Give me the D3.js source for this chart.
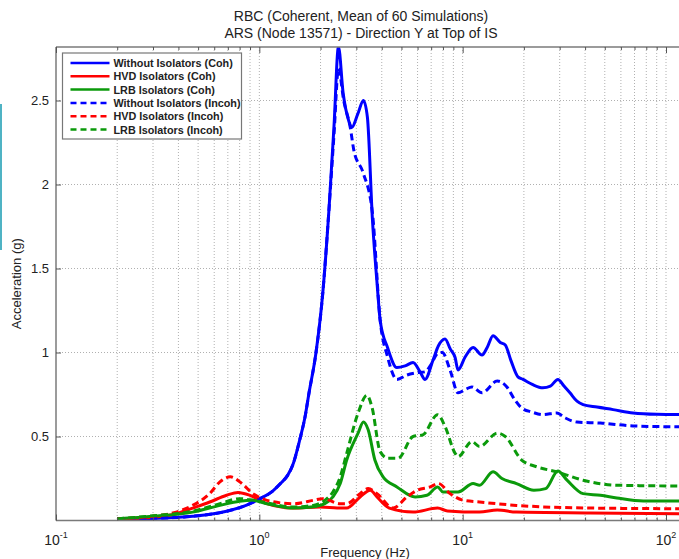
<!DOCTYPE html>
<html>
<head>
<meta charset="utf-8">
<script src="https://cdn.jsdelivr.net/npm/d3@7"></script>
<style>
html,body{margin:0;padding:0;background:#fff;}
svg{display:block;font-family:"Liberation Sans",Arial,sans-serif;}
</style>
</head>
<body>
<svg id="chart" width="679" height="559"></svg>
<script>
// ---------- data ----------
const titleLines = ["RBC (Coherent, Mean of 60 Simulations)", "ARS (Node 13571) - Direction Y at Top of IS"];
const xLabel = "Frequency (Hz)";
const yLabel = "Acceleration (g)";
const yTicks = [0.5, 1, 1.5, 2, 2.5];
const xDecades = [0.1, 1, 10, 100];
const xDecadeExp = ["-1", "0", "1", "2"];
const seriesNames = ["Without Isolators (Coh)", "HVD Isolators (Coh)", "LRB Isolators (Coh)",
                     "Without Isolators (Incoh)", "HVD Isolators (Incoh)", "LRB Isolators (Incoh)"];

const freqWithoutCoh = [0.2,0.3,0.47,0.69,0.86,1.0,1.15,1.27,1.38,1.46,1.58,1.68,1.75,1.9,2.05,2.2,2.33,2.45,2.58,2.75,2.85,3.05,3.25,3.4,3.6,3.8,3.93,4.27,4.75,5.21,5.7,6.17,6.53,7.15,7.6,8.19,8.7,9.18,9.49,10.3,11.25,12.45,13.2,14.1,15.3,16.2,17.3,18.7,19.8,22.0,24.8,27.0,29.4,31.5,33.7,36.5,39.1,45.8,54.9,68.9,90,125];
const accWithoutCoh  = [0.008,0.012,0.025,0.055,0.09,0.128,0.17,0.22,0.27,0.33,0.48,0.62,0.75,1.0,1.35,1.85,2.35,2.82,2.55,2.38,2.34,2.42,2.50,2.4,1.79,1.4,1.19,1.03,0.91,0.92,0.94,0.885,0.84,0.955,1.04,1.08,1.02,0.97,0.896,0.975,1.03,0.985,1.03,1.10,1.06,1.045,0.95,0.855,0.84,0.81,0.79,0.8,0.84,0.8,0.76,0.71,0.69,0.675,0.66,0.64,0.632,0.63];

const freqHvdCoh = [0.2,0.3,0.39,0.47,0.57,0.69,0.785,0.9,1.09,1.47,1.99,2.41,2.69,3.13,3.51,3.79,4.36,5.7,7.53,8.42,12.1,14.8,18.4,42.4,125];
const accHvdCoh  = [0.01,0.02,0.04,0.074,0.11,0.15,0.167,0.15,0.10,0.074,0.08,0.075,0.074,0.14,0.18,0.14,0.074,0.05,0.074,0.057,0.05,0.062,0.05,0.045,0.04];

const freqLrbCoh = [0.2,0.3,0.47,0.64,0.8,0.93,1.09,1.47,1.8,2.1,2.3,2.5,2.69,3.06,3.25,3.43,3.7,4.06,4.75,5.84,6.67,7.53,8.0,9.49,11.25,12.1,14.1,15.6,18.4,22.4,25.6,29.4,32.6,39.1,47.6,57.3,77.4,125];
const accLrbCoh  = [0.01,0.025,0.05,0.09,0.115,0.12,0.10,0.074,0.08,0.1,0.14,0.22,0.36,0.52,0.586,0.54,0.36,0.26,0.2,0.14,0.15,0.2,0.17,0.17,0.22,0.21,0.29,0.25,0.22,0.18,0.19,0.295,0.24,0.16,0.15,0.134,0.116,0.116];

const freqWithoutIncoh = [0.2,0.3,0.47,0.69,0.86,1.0,1.15,1.27,1.38,1.46,1.58,1.68,1.75,1.9,2.05,2.2,2.33,2.45,2.6,2.8,2.92,3.24,3.6,3.93,4.27,4.75,5.32,6.0,6.53,7.0,7.53,7.94,8.67,9.49,10.3,11.1,12.45,14.8,16.5,18.0,19.5,22.0,24.8,29.0,32,36.5,47.6,68.9,125];
const accWithoutIncoh  = [0.008,0.012,0.025,0.055,0.09,0.128,0.17,0.22,0.27,0.33,0.48,0.62,0.75,1.0,1.35,1.85,2.3,2.69,2.5,2.34,2.2,2.07,1.83,1.19,0.975,0.84,0.866,0.88,0.885,0.93,0.995,1.0,0.896,0.76,0.78,0.795,0.76,0.83,0.795,0.72,0.67,0.645,0.63,0.64,0.61,0.586,0.58,0.563,0.557];

const freqHvdIncoh = [0.2,0.3,0.39,0.47,0.57,0.64,0.72,0.82,0.93,1.09,1.47,1.84,2.05,2.5,2.69,3.13,3.43,3.79,4.55,5.32,5.97,6.92,7.6,8.67,10.1,12.1,18.4,42.4,125];
const accHvdIncoh  = [0.01,0.025,0.05,0.09,0.16,0.23,0.26,0.22,0.16,0.12,0.10,0.12,0.13,0.10,0.10,0.16,0.19,0.16,0.074,0.14,0.18,0.2,0.22,0.16,0.12,0.11,0.09,0.074,0.07];

const freqLrbIncoh = [0.2,0.3,0.47,0.64,0.8,0.93,1.09,1.47,1.84,2.1,2.3,2.5,2.69,3.06,3.38,3.58,3.93,4.3,4.81,5.7,6.37,7.53,8.19,9.18,9.49,11.1,12.1,14.8,16.2,19.5,23.1,29.0,39.1,57.3,125];
const accLrbIncoh  = [0.01,0.028,0.055,0.1,0.13,0.12,0.105,0.08,0.09,0.12,0.17,0.26,0.4,0.64,0.745,0.675,0.41,0.37,0.37,0.5,0.51,0.63,0.56,0.40,0.38,0.47,0.44,0.52,0.5,0.36,0.32,0.29,0.24,0.21,0.205];

const seriesColors = ["#0000ff", "#ff0000", "#0b9a0b", "#0000ff", "#ff0000", "#0b9a0b"];
const seriesDashed = [false, false, false, true, true, true];
const seriesFreqs = [freqWithoutCoh, freqHvdCoh, freqLrbCoh, freqWithoutIncoh, freqHvdIncoh, freqLrbIncoh];
const seriesAccs  = [accWithoutCoh, accHvdCoh, accLrbCoh, accWithoutIncoh, accHvdIncoh, accLrbIncoh];

// ---------- layout ----------
const svg = d3.select("#chart");
const plotLeft = 56, plotBottom = 520.5, plotTop = 47;
const xMaxDomain = 125;

const x = d3.scaleLog().domain([0.1, 100]).range([plotLeft, 666]);
const y = d3.scaleLinear().domain([0, 2.5]).range([plotBottom, 100.5]);
const plotRight = x(xMaxDomain);

// artifact strip at left edge
svg.append("rect").attr("x", 0).attr("y", 104).attr("width", 2).attr("height", 146).attr("fill", "#4fb3c4");

// clip
svg.append("defs").append("clipPath").attr("id", "plotclip")
  .append("rect").attr("x", plotLeft).attr("y", plotTop).attr("width", plotRight - plotLeft).attr("height", plotBottom - plotTop);

// grid
const minorVals = [];
[0.1, 1, 10, 100].forEach(d => { for (let k = 1; k <= 9; k++) { const v = d * k; if (v <= xMaxDomain && v > 0.1) minorVals.push(v); } });
const grid = svg.append("g");
grid.selectAll("line.vx").data(minorVals).join("line")
  .attr("x1", d => x(d)).attr("x2", d => x(d)).attr("y1", plotTop).attr("y2", plotBottom)
  .attr("stroke", "#b0b0b0").attr("stroke-width", 1).attr("stroke-dasharray", "1,2");
grid.selectAll("line.hy").data(yTicks).join("line")
  .attr("x1", plotLeft).attr("x2", plotRight).attr("y1", d => y(d)).attr("y2", d => y(d))
  .attr("stroke", "#b0b0b0").attr("stroke-width", 1).attr("stroke-dasharray", "1,2");

// lines
const line = d3.line().x(d => x(d[0])).y(d => y(d[1])).curve(d3.curveMonotoneX);
const lg = svg.append("g").attr("clip-path", "url(#plotclip)");
seriesNames.forEach((name, i) => {
  const pts = seriesFreqs[i].map((f, j) => [f, seriesAccs[i][j]]);
  lg.append("path").datum(pts).attr("d", line)
    .attr("fill", "none").attr("stroke", seriesColors[i]).attr("stroke-width", 3)
    .attr("stroke-linejoin", "round")
    .attr("stroke-dasharray", seriesDashed[i] ? "7,4" : null);
});

// axes box
const axisColor = "#7a7a7a";
svg.append("line").attr("x1", plotLeft).attr("x2", plotRight).attr("y1", plotBottom).attr("y2", plotBottom).attr("stroke", axisColor).attr("stroke-width", 1.5);
svg.append("line").attr("x1", plotLeft).attr("x2", plotRight).attr("y1", plotTop).attr("y2", plotTop).attr("stroke", axisColor).attr("stroke-width", 1.5);
svg.append("line").attr("x1", plotLeft).attr("x2", plotLeft).attr("y1", plotTop).attr("y2", plotBottom).attr("stroke", axisColor).attr("stroke-width", 1.5);

// x ticks (bottom & top, inside)
const minorOnly = minorVals.filter(v => !xDecades.includes(v));
const xMinorAxisB = d3.axisBottom(x).tickValues(minorOnly).tickSize(-3).tickFormat("");
const xMajorAxisB = d3.axisBottom(x).tickValues(xDecades).tickSize(-6).tickFormat("");
const xMinorAxisT = d3.axisTop(x).tickValues(minorOnly).tickSize(-3).tickFormat("");
const xMajorAxisT = d3.axisTop(x).tickValues(xDecades).tickSize(-6).tickFormat("");
[[xMinorAxisB, plotBottom], [xMajorAxisB, plotBottom], [xMinorAxisT, plotTop], [xMajorAxisT, plotTop]].forEach(([ax, ty]) => {
  const g = svg.append("g").attr("transform", `translate(0,${ty})`).call(ax);
  g.select(".domain").remove();
  g.selectAll("line").attr("stroke", "#555");
});

// x tick labels with superscript
const xl = svg.append("g").attr("fill", "#222").attr("font-size", 14);
xDecades.forEach((d, i) => {
  const t = xl.append("text").attr("x", x(d)).attr("y", 545).attr("text-anchor", "middle");
  t.append("tspan").text("10");
  t.append("tspan").attr("font-size", 9).attr("dy", -7).text(xDecadeExp[i]);
});

// y axis
const yAxis = d3.axisLeft(y).tickValues(yTicks).tickSize(-5).tickPadding(7).tickFormat(d3.format("~g"));
const gy = svg.append("g").attr("transform", `translate(${plotLeft},0)`).call(yAxis);
gy.select(".domain").remove();
gy.selectAll("line").attr("stroke", "#555");
gy.selectAll("text").attr("font-size", 13).attr("fill", "#222").attr("font-family", "Liberation Sans, Arial, sans-serif");

// titles
titleLines.forEach((t, i) => {
  svg.append("text").attr("x", 361).attr("y", 21 + i * 17).attr("text-anchor", "middle")
    .attr("font-size", 14).attr("fill", "#222").text(t);
});
svg.append("text").attr("x", 365).attr("y", 557).attr("text-anchor", "middle")
  .attr("font-size", 13).attr("fill", "#222").text(xLabel);
svg.append("text").attr("transform", `translate(21,${(plotTop + plotBottom) / 2}) rotate(-90)`)
  .attr("text-anchor", "middle").attr("font-size", 13).attr("fill", "#222").text(yLabel);

// legend
const lgx = 62.5, lgy = 53, lgw = 179, lgh = 86, rowH = 13.3;
const leg = svg.append("g");
leg.append("rect").attr("x", lgx).attr("y", lgy).attr("width", lgw).attr("height", lgh)
  .attr("fill", "#fff").attr("stroke", "#777").attr("stroke-width", 1.2);
seriesNames.forEach((name, i) => {
  const cy = lgy + 10 + i * rowH;
  leg.append("line").attr("x1", lgx + 8).attr("x2", lgx + 47).attr("y1", cy).attr("y2", cy)
    .attr("stroke", seriesColors[i]).attr("stroke-width", 2.5)
    .attr("stroke-dasharray", seriesDashed[i] ? "6,4" : null);
  leg.append("text").attr("x", lgx + 51).attr("y", cy + 4).attr("font-size", 10.8)
    .attr("font-weight", "bold").attr("fill", "#222").text(name);
});
</script>
</body>
</html>
